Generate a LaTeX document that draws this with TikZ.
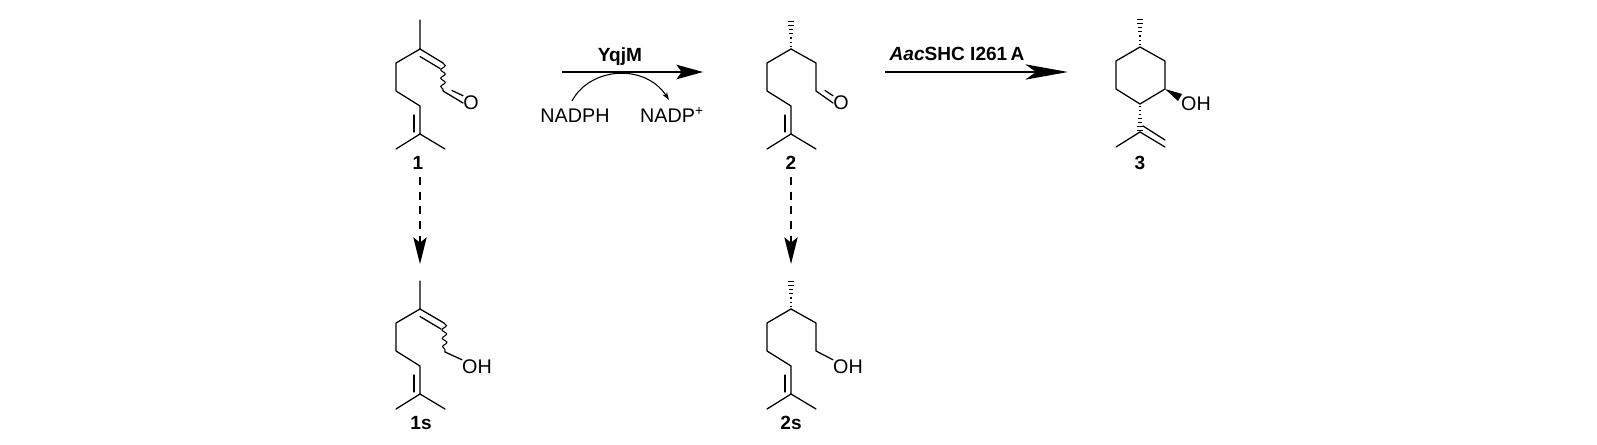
\documentclass[tikz,border=0pt]{standalone}
\usepackage{fontspec}
\setmainfont{Liberation Sans}
\usetikzlibrary{arrows.meta,calc,decorations.pathmorphing}
\tikzset{
	bond/.style={line width=0.95pt,line join=round,line cap=round},
	wavy/.style={line width=0.8pt,decorate,decoration={snake,amplitude=1.7pt,segment length=6.3pt}},
	atomlab/.style={inner sep=0pt,font=\fontsize{14.8}{16}\selectfont},
	boldlab/.style={inner sep=0pt,font=\fontsize{14.3}{16}\selectfont\bfseries},
	rxnarrow/.style={line width=0.95pt,-{Stealth[length=20pt,width=11pt,inset=4pt]}},
	longarrow/.style={line width=0.95pt,-{Stealth[length=32pt,width=11.5pt,inset=8pt]}},
	dasharrow/.style={line width=0.95pt,dash pattern=on 6pt off 5pt,-{Stealth[length=20pt,width=10pt,inset=4pt]}},
	% geranyl tail, origin on the branching carbon
	tailpic/.pic={
		\draw[bond] (0,0) -- (-24,14) -- (-24,42) -- (0,57) -- (0,85) -- (-24,100);
		\draw[bond] (0,85) -- (25,100);
		\draw[bond] (-6,66) -- (-6,83);
	},
}
% hashed bond: from thin end #1 to wide end #2
\newcommand{\hashbond}[2]{
	\foreach \t/\w in {0.1/0.7,0.24/1,0.38/1.4,0.52/1.8,0.66/2.2,0.8/2.6,0.96/3.2}
		\draw[line width=0.8pt] ($(#1)!\t!(#2)+(-\w,0)$) -- ($(#1)!\t!(#2)+(\w,0)$);
}

\begin{document}
\begin{tikzpicture}[x=0.75pt,y=0.75pt,yscale=-1,xscale=1]
	\useasboundingbox (0,0) rectangle (1597,445);

	% 1
	\coordinate (c3a) at (420,49);
	\coordinate (me1) at (420,20);
	\coordinate (c2a) at (443,63);
	\coordinate (c1a) at (443,91);
	\node[atomlab] (oxa) at (471,103) {O};
	\node[boldlab] (lab1) at (418,163) {1};
	\pic[yscale=-1] at (c3a) {tailpic};
	\draw[bond] (me1) -- (c3a) -- (c2a);
	\draw[bond] (420,56.5) -- (440,68.5);
	\draw[wavy] (c2a) -- (c1a);
	\draw[bond] (c1a) -- (oxa.west);
	\draw[bond] (452,90.5) -- (oxa.north west);

	% 1s
	\coordinate (c3b) at (420,309);
	\coordinate (me1s) at (420,281);
	\coordinate (c2b) at (444,323);
	\coordinate (c1b) at (445,352);
	\node[atomlab] (ohb) at (477,367) {OH};
	\node[boldlab] (lab1s) at (421,423) {1s};
	\pic[yscale=-1] at (c3b) {tailpic};
	\draw[bond] (me1s) -- (c3b) -- (c2b);
	\draw[bond] (420,316.5) -- (441,329);
	\draw[wavy] (c2b) -- (c1b);
	\draw[bond] (c1b) -- (ohb.north west);

	% 2
	\coordinate (c3c) at (791,49);
	\coordinate (me2) at (791,20);
	\coordinate (c2c) at (816,63);
	\coordinate (c1c) at (816,91);
	\node[atomlab] (oxc) at (841,103) {O};
	\node[boldlab] (lab2) at (791,163) {2};
	\pic[yscale=-1] at (c3c) {tailpic};
	\hashbond{c3c}{me2}
	\draw[bond] (c3c) -- (c2c) -- (c1c) -- (oxc.west);
	\draw[bond] (825,90.5) -- (oxc.north west);

	% 2s
	\coordinate (c3d) at (791,309);
	\coordinate (me2s) at (791,280);
	\coordinate (c2d) at (816,323);
	\coordinate (c1d) at (816,351);
	\node[atomlab] (ohd) at (848,367) {OH};
	\node[boldlab] (lab2s) at (791,423) {2s};
	\pic[yscale=-1] at (c3d) {tailpic};
	\hashbond{c3d}{me2s}
	\draw[bond] (c3d) -- (c2d) -- (c1d) -- (ohd.north west);

	% 3
	\coordinate (r1) at (1140,47);
	\coordinate (r2) at (1165,61);
	\coordinate (r3) at (1165,89);
	\coordinate (r4) at (1140,104);
	\coordinate (r5) at (1116,89);
	\coordinate (r6) at (1116,61);
	\coordinate (me3) at (1140,18);
	\coordinate (iso) at (1140,132);
	\coordinate (ch3) at (1116,147);
	\coordinate (ch2) at (1165,147);
	\node[atomlab] (ohe) at (1196,104) {OH};
	\node[boldlab] (lab3) at (1140,163) {3};
	\draw[bond] (r1) -- (r2) -- (r3) -- (r4) -- (r5) -- (r6) -- cycle;
	\hashbond{r1}{me3}
	\hashbond{r4}{iso}
	\fill (r3) -- (1182,94) -- (1178,101) -- cycle;
	\draw[bond] (ch3) -- (iso) -- (ch2);
	\draw[bond] (1143,126) -- (1165,140);

	% arrows
	\coordinate (a1s) at (562,72);
	\coordinate (a1e) at (703,72);
	\coordinate (a2s) at (885,72);
	\coordinate (a2e) at (1068,72);
	\coordinate (d1s) at (420,177);
	\coordinate (d1e) at (420,264);
	\coordinate (d2s) at (791,177);
	\coordinate (d2e) at (791,264);
	\draw[rxnarrow] (a1s) -- (a1e);
	\draw[longarrow] (a2s) -- (a2e);
	\draw[dasharrow] (d1s) -- (d1e);
	\draw[dasharrow] (d2s) -- (d2e);
	\node[boldlab,anchor=base] (enz1) at (620,62) {YqjM};
	\node[boldlab,anchor=base] (enz2) at (957,61) {\textit{Aac}SHC I261\,A};
	\node[atomlab] (nadph) at (575,116) {NADPH};
	\node[atomlab] (nadp) at (672,115) {NADP\textsuperscript{+}};
	\coordinate (cv1) at (572,101);
	\coordinate (cv2) at (669,100);
	\draw[line width=0.8pt,-{Stealth[length=6pt,width=4pt]}] (cv1) .. controls (590,67) and (645,63) .. (cv2);
	\end{tikzpicture}
\end{document}
